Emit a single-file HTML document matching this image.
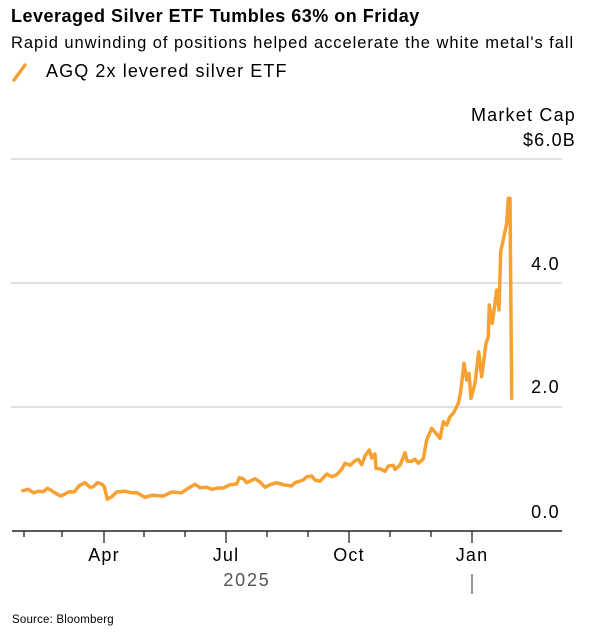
<!DOCTYPE html>
<html><head><style>
body{margin:0;background:#fff;width:600px;height:634px;overflow:hidden;font-family:"Liberation Sans",sans-serif;position:relative}
.t{position:absolute;white-space:nowrap;color:#000}
.n{position:absolute;right:40px;font-size:18px;letter-spacing:1.3px}
.m{position:absolute;font-size:18px;letter-spacing:1.2px;width:80px;text-align:center;top:545px}
</style></head><body>
<div class="t" style="left:11px;top:6px;font-size:18px;letter-spacing:0.5px;font-weight:bold">Leveraged Silver ETF Tumbles 63% on Friday</div>
<div class="t" style="left:11px;top:34px;font-size:16.5px;letter-spacing:0.95px">Rapid unwinding of positions helped accelerate the white metal's fall</div>
<div class="t" style="left:46px;top:61px;font-size:18px;letter-spacing:1.1px">AGQ 2x levered silver ETF</div>
<svg style="position:absolute;left:0;top:0" width="600" height="634">
<line x1="14" y1="80" x2="25" y2="65" stroke="#f7a133" stroke-width="3.5" stroke-linecap="round"/>
<g stroke="#d6d6d6" stroke-width="1.5">
<line x1="11" y1="159" x2="562" y2="159"/><line x1="11" y1="283" x2="562" y2="283"/><line x1="11" y1="407" x2="562" y2="407"/>
</g>
<line x1="12" y1="531" x2="562" y2="531" stroke="#222" stroke-width="1.5"/>
<g stroke="#222" stroke-width="1.3">
<line x1="24" y1="531" x2="24" y2="537"/><line x1="62" y1="531" x2="62" y2="537"/><line x1="104" y1="531" x2="104" y2="543"/><line x1="144" y1="531" x2="144" y2="537"/><line x1="185" y1="531" x2="185" y2="537"/><line x1="226" y1="531" x2="226" y2="543"/><line x1="267" y1="531" x2="267" y2="537"/><line x1="308" y1="531" x2="308" y2="537"/><line x1="349" y1="531" x2="349" y2="543"/><line x1="390" y1="531" x2="390" y2="537"/><line x1="431" y1="531" x2="431" y2="537"/><line x1="472" y1="531" x2="472" y2="543"/>
</g>
<line x1="472" y1="574" x2="472" y2="594" stroke="#555" stroke-width="1.2"/>
<polyline fill="none" stroke="#f7a133" stroke-width="3.5" stroke-linejoin="round" stroke-linecap="round" points="22.7,490.7 28.3,489.3 33.3,492.7 38.3,491.3 43.3,491.7 47.3,488.3 51.7,490.7 56.7,494 60.7,496 65,494 69.3,491.7 74,492 79.3,485.7 85,482.7 90,487.3 93.3,486.7 97.3,482.7 101.7,484 104.3,486.7 107.3,499.3 111.7,496.7 116.7,492 125,491.3 131.7,492.7 136.7,492.7 145,497.3 151.7,495.3 163.3,496 171.7,492 181.7,492.7 186.7,489.3 195,484.3 200,487.7 206.7,487.3 211.7,489.3 218.3,488 223.3,488 230,484.7 236.7,484 239.3,477.7 243.3,478.7 246.7,482.7 255,478.7 260,482 265,487.3 270,484.7 276.7,482.7 283.3,484.7 291.7,486 295,482.7 303.3,480 306.7,476.7 311.7,476 315,480 320,481.3 326.7,474 331.7,476.7 336.7,474.7 341.7,469.3 345,463.3 350,465.3 355,460.7 358.3,459.3 361.7,464.7 365,456 369.3,450 371.7,458 375,454 376,468.3 380,468.7 385,471.3 388.3,466 393.3,465.3 395,469.3 400,465.3 405,452.7 407.3,461.3 411.7,461.3 415,459.3 418.3,463.3 423.3,458.7 426.7,440 431.7,428.3 436,433.3 440,438.3 443.3,421.7 446.7,425 450,416.7 453.3,413.3 455,410 458.3,403.3 460.7,391.7 464,363.3 466.7,380 469,373.3 471,398.3 475,383.3 478.7,351.7 481.7,376.7 486,343.3 488.3,336.7 489.3,305 492.3,323.3 496.7,290 499,310 500.7,251.7 506.7,223.3 508.3,198.3 510,198.3 511.7,398.3"/>
</svg>
<div class="t" style="right:24px;top:103px;font-size:18px;letter-spacing:1.2px;text-align:right;line-height:25px">Market Cap<br>$6.0B</div>
<div class="n" style="top:254px">4.0</div>
<div class="n" style="top:377px">2.0</div>
<div class="n" style="top:502px">0.0</div>
<div class="m" style="left:64px">Apr</div>
<div class="m" style="left:186px">Jul</div>
<div class="m" style="left:309px">Oct</div>
<div class="m" style="left:432px">Jan</div>
<div class="t" style="left:207px;top:570px;width:80px;text-align:center;font-size:18px;color:#555;letter-spacing:1.8px">2025</div>
<div class="t" style="left:12px;top:614px;font-size:11.5px;letter-spacing:0.2px">Source: Bloomberg</div>
</body></html>
